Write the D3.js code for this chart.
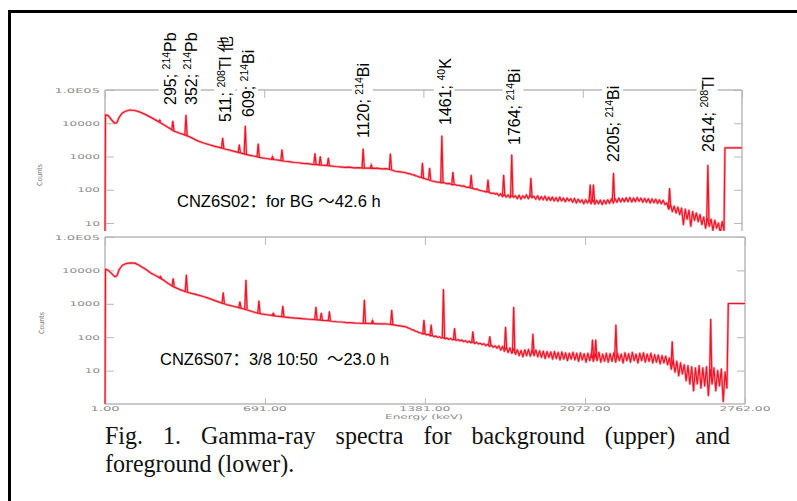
<!DOCTYPE html>
<html><head><meta charset="utf-8">
<script src="https://cdn.jsdelivr.net/npm/d3@7"></script>
<style>body{margin:0;background:#fff;overflow:hidden}svg{display:block}</style>
</head><body>
<svg id="c" width="797" height="501"></svg>
<script>
// ---------------- DATA ----------------
const xTicks = [1, 346, 691, 1036, 1381, 1726, 2072, 2417, 2762];
const xTickLabels = ["1.00", "", "691.00", "", "1381.00", "", "2072.00", "", "2762.00"];
const yTicks = [1e5, 1e4, 1e3, 100, 10];
const yTickLabels = ["1.0E05", "10000", "1000", "100", "10"];

// Background (upper) spectrum, low-energy part: [keV, counts]
const bgLow = [[1,5],[3,18000],[15,17000],[30,12500],[43,10000],[52,10300],[62,15000],[75,20000],[90,23000],[108,25000],[130,24200],[150,22000],[175,18500],[200,15000],[225,12000],[250,9500],[275,7500],[300,5800],[325,5000],[350,4400],[375,3700],[400,3000],[425,2600],[450,2300],[475,2050],[500,1850],[525,1650],[550,1500],[575,1350],[600,1220],[625,1100],[650,1020],[675,930],[700,870],[720,830],[740,800],[760,760],[780,720],[800,700],[820,660],[840,650],[860,620],[880,610],[900,580],[920,570],[940,545],[960,540],[980,520],[1000,500],[1020,490],[1040,470],[1060,480],[1080,455],[1100,460],[1120,445],[1140,450],[1160,440],[1180,445],[1200,425],[1220,430],[1240,400],[1260,360],[1280,345]];
// Background, high-energy part: counts per 8 keV channel starting at 1300 keV
const channelStart = 1300, channelStep = 8;
const bgHigh = [
 330,318,305,300,285,280,262,255,240,236,
 222,214,205,200,190,182,180,172,170,166,
 162,166,158,152,155,148,140,146,138,136,
 134,128,131,122,118,120,112,110,104,106,
 98,95,92,90,86,88,82,78,80,74,
 78,66,76,62,72,60,70,58,67,59,
 66,54,68,52,66,56,70,54,68,58,
 64,52,66,50,62,50,64,48,60,48,
 60,46,58,45,60,46,56,44,56,46,
 54,42,55,40,52,42,50,38,50,40,
 50,38,50,37,48,38,49,36,48,38,
 50,39,53,40,54,42,56,43,55,44,
 57,44,58,43,56,44,58,45,56,42,
 55,42,54,40,53,41,52,39,50,38,
 48,36,40,26,36,22,32,20,30,18,
 28,9,26,13,24,8,22,12,20,11,
 18,9,15,7,14,8,13,6,12,7,
 10,5,11,6];
const bgTail = [[2688,1830],[2762,1830]];
// [keV, peak top, peak base]
const bgPeaks = [[238,12500,11200],[295,11700,6100],[352,17700,4350],[511,3600,1760],[583,2250,1300],[609,8300,1180],[665,2400,960],[727,1000,820],[768,1600,745],[911,1250,575],[934,1000,550],[969,900,530],[1120,1700,445],[1155,560,442],[1238,1200,405],[1377,630,225],[1408,450,200],[1461,4200,162],[1509,340,150],[1588,275,112],[1661,200,86],[1729,275,67],[1764,1120,62],[1847,225,60],[2104,140,44],[2118,140,44],[2205,315,46],[2448,110,30],[2614,550,11]];

// Foreground (lower) spectrum
const fgLow = [[1,0.5],[3,11000],[15,10000],[30,8000],[43,6500],[52,6800],[62,10500],[75,14000],[92,16000],[110,16700],[130,16500],[150,14000],[175,11000],[200,8200],[225,6700],[250,5300],[275,4000],[300,3150],[325,2650],[350,2300],[375,2050],[400,1850],[425,1650],[450,1450],[475,1250],[500,1080],[525,950],[550,860],[575,780],[600,700],[625,620],[650,550],[675,500],[700,470],[720,450],[740,430],[760,415],[780,400],[800,385],[820,375],[840,365],[860,355],[880,345],[900,340],[920,330],[940,320],[960,315],[980,300],[1000,290],[1020,285],[1040,275],[1060,272],[1080,265],[1100,262],[1120,258],[1140,258],[1160,255],[1180,252],[1200,250],[1220,248],[1240,238],[1260,225],[1280,215]];
const fgHigh = [
 205,190,182,168,165,150,148,136,134,126,
 128,118,122,110,114,104,108,99,103,95,
 98,90,94,86,92,83,88,80,85,78,
 82,74,79,70,76,68,72,65,70,63,
 66,60,64,56,61,53,58,50,55,47,
 55,41,53,38,50,35,48,33,45,31,
 42,28,40,26,42,28,43,27,41,28,
 41,26,39,25,38,23,37,25,36,22,
 37,23,35,21,36,22,34,20,33,22,
 35,21,33,19,34,21,32,18,33,20,
 34,19,32,20,35,18,31,19,33,18,
 32,19,34,18,33,20,31,17,34,20,
 32,18,35,20,31,17,33,20,34,18,
 31,19,33,17,30,18,29,16,28,17,
 27,15,24,11,21,9,19,7,17,8,
 15,5,14,4,13,2.5,12,4,14,3,
 12,3.5,13,1.8,11,4,12,2.5,10,3.5,
 11,1.2,9,3];
const fgTail = [[2690,1020],[2762,1020]];
const fgPeaks = [[240,6600,5850],[295,5700,3300],[352,7300,2280],[511,2150,1020],[583,1150,760],[609,5150,680],[665,1230,520],[727,520,455],[768,860,410],[911,800,335],[934,530,322],[969,580,310],[1120,1290,258],[1155,320,255],[1238,650,240],[1377,325,126],[1408,235,110],[1461,2700,95],[1509,185,84],[1588,148,68],[1661,105,58],[1729,200,44],[1764,790,34],[1847,125,32],[2104,83,24],[2118,83,24],[2205,235,24],[2448,74,14],[2614,350,6]];

// Peak annotations
const peakEnergies = [295, 352, 511, 609, 1120, 1461, 1764, 2205, 2614];
const peakNums = ["295; ", "352; ", "511; ", "609; ", "1120; ", "1461; ", "1764; ", "2205; ", "2614; "];
const peakMass = ["214", "214", "208", "214", "214", "40", "214", "214", "208"];
const peakElems = ["Pb", "Pb", "Tl 他", "Bi", "Bi", "K", "Bi", "Bi", "Tl"];

const bgNote = "CNZ6S02：for BG ～42.6 h";
const fgNote = "CNZ6S07：3/8 10:50  ～23.0 h";
const xTitle = "Energy (keV)";
const yTitle = "Counts";
const caption1 = "Fig. 1. Gamma-ray spectra for background (upper) and";
const caption2 = "foreground (lower).";

// ---------------- LAYOUT ----------------
const labelLayout = [[-3,105],[5,105],[3,122],[3,117],[0,138],[3,125],[2,145],[0,162],[0,152]];
const RED = "#f01426", PINK = "#f7aab2", GRAY = "#b8b8b8", LGRAY = "#8c8c8c";
const svg = d3.select("#c");

// outer frame
svg.append("line").attr("x1",9.5).attr("x2",9.5).attr("y1",10).attr("y2",501).attr("stroke","#000").attr("stroke-width",3);
svg.append("line").attr("x1",8).attr("x2",797).attr("y1",11.5).attr("y2",11.5).attr("stroke","#000").attr("stroke-width",3);

function logTicks(min, max){
  const t=[]; for(let e=-1;e<=5;e++) for(let m=1;m<10;m++){const v=m*Math.pow(10,e); if(v>=min*0.999 && v<=max*1.001) t.push(v);} return t;
}

function panel(cfg){
  const x = d3.scaleLinear().domain([1,2762]).range([cfg.x0,cfg.x1]);
  const y = d3.scaleLog().domain([cfg.yMin,1e5]).range([cfg.yBot,cfg.yTop]);
  const g = svg.append("g");
  const clipId = "clip"+cfg.id;
  svg.append("clipPath").attr("id",clipId).append("rect")
    .attr("x",cfg.x0-1).attr("y",cfg.yTop).attr("width",cfg.x1-cfg.x0+2).attr("height",cfg.yBot-cfg.yTop);

  const minor = logTicks(cfg.yMin,1e5).filter(v=>!yTicks.includes(v));
  const major = yTicks.filter(v=>v>=cfg.yMin);
  const la = g.append("g").attr("transform",`translate(${cfg.x0},0)`);
  la.call(d3.axisRight(y).tickValues(minor).tickSize(5).tickFormat(""));
  la.call(d3.axisRight(y).tickValues(major).tickSize(9).tickFormat(""));
  const ra = g.append("g").attr("transform",`translate(${cfg.x1},0)`);
  ra.call(d3.axisLeft(y).tickValues(minor).tickSize(4).tickFormat(""));
  ra.call(d3.axisLeft(y).tickValues(major).tickSize(8).tickFormat(""));
  const ta = g.append("g").attr("transform",`translate(0,${cfg.yTop})`);
  ta.call(d3.axisBottom(x).tickValues(xTicks.filter((d,i)=>i%2===1)).tickSize(5).tickFormat(""));
  ta.call(d3.axisBottom(x).tickValues(xTicks.filter((d,i)=>i%2===0)).tickSize(8).tickFormat(""));
  if(cfg.bottomAxis){
    const ba = g.append("g").attr("transform",`translate(0,${cfg.yBot})`);
    ba.call(d3.axisTop(x).tickValues(xTicks.filter((d,i)=>i%2===1)).tickSize(3).tickFormat(""));
    ba.call(d3.axisTop(x).tickValues(xTicks.filter((d,i)=>i%2===0)).tickSize(6).tickFormat(""));
    ba.selectAll(".domain").attr("d",`M${cfg.x0},0H${cfg.x1}`);
    xTicks.forEach((t,i)=>{ if(!xTickLabels[i]) return;
      g.append("text").attr("x",x(t)).attr("y",cfg.yBot+6.5).attr("text-anchor","middle")
        .attr("font-family","DejaVu Sans").attr("font-size",6.5).attr("fill",LGRAY)
        .attr("textLength",7.3*xTickLabels[i].length).attr("lengthAdjust","spacingAndGlyphs")
        .text(xTickLabels[i]);
    });
  }
  g.selectAll(".domain").attr("stroke",GRAY).attr("stroke-width",1.5);
  g.selectAll(".tick line").attr("stroke",GRAY).attr("stroke-width",1);
  la.selectAll(".domain").attr("d",`M0,${cfg.yTop}V${cfg.yBot}`);
  ra.selectAll(".domain").attr("d",`M0,${cfg.yTop}V${cfg.yBot}`);
  ta.selectAll(".domain").attr("d",`M${cfg.x0},0H${cfg.x1}`);

  major.forEach(v=>{
    const lab = yTickLabels[yTicks.indexOf(v)];
    g.append("text").attr("x",cfg.x0-5).attr("y",y(v)+2.5).attr("text-anchor","end")
      .attr("font-family","DejaVu Sans").attr("font-size",6.5).attr("fill",LGRAY)
      .attr("textLength",7.6*lab.length).attr("lengthAdjust","spacingAndGlyphs").text(lab);
  });
  g.append("text").attr("transform",`translate(${cfg.titleX},${cfg.titleY}) rotate(-90)`)
    .attr("text-anchor","middle").attr("font-family","DejaVu Sans").attr("font-size",7)
    .attr("fill","#777").attr("textLength",22).attr("lengthAdjust","spacingAndGlyphs").text(yTitle);

  const pts = cfg.low.concat(cfg.high.map((c,i)=>[channelStart+i*channelStep,c]), cfg.tail);
  const line = d3.line().x(d=>x(d[0])).y(d=>y(d[1]));
  const peakPts = p=>[[p[0]-5,p[2]],[p[0],p[1]],[p[0]+5,p[2]]];
  const sg = g.append("g").attr("clip-path",`url(#${clipId})`);
  sg.append("path").attr("d",line(pts)).attr("fill","none").attr("stroke",PINK)
    .attr("stroke-width",2.6).attr("stroke-linejoin","round");
  sg.selectAll("path.pkh").data(cfg.peaks).join("path").attr("class","pkh")
    .attr("d",p=>line(peakPts(p))).attr("fill","none").attr("stroke",PINK).attr("stroke-width",2.4);
  sg.append("path").attr("d",line(pts)).attr("fill","none").attr("stroke",RED)
    .attr("stroke-width",1.2).attr("stroke-linejoin","round");
  sg.selectAll("path.pk").data(cfg.peaks).join("path").attr("class","pk")
    .attr("d",p=>line(peakPts(p)))
    .attr("fill","none").attr("stroke",RED).attr("stroke-width",1.2).attr("stroke-linejoin","round");

  g.append("text").attr("x",cfg.noteX).attr("y",cfg.noteY)
    .attr("font-family","Liberation Sans, 'Noto Sans CJK SC', sans-serif").attr("font-size",16.5)
    .attr("fill","#000").style("white-space","pre").text(cfg.note);
  return {x,y,g};
}

const upperP = panel({id:"t", x0:105, x1:742, yTop:90, yBot:231, yMin:5.75, low:bgLow, high:bgHigh, tail:bgTail,
  peaks:bgPeaks, bottomAxis:false, titleX:42, titleY:175, note:bgNote, noteX:177, noteY:207});
const lowerP = panel({id:"b", x0:105, x1:745, yTop:237, yBot:404, yMin:1, low:fgLow, high:fgHigh, tail:fgTail,
  peaks:fgPeaks, bottomAxis:true, titleX:44, titleY:323, note:fgNote, noteX:160, noteY:365});

svg.append("text").attr("x",424).attr("y",419).attr("text-anchor","middle")
  .attr("font-family","DejaVu Sans").attr("font-size",6.5).attr("fill",LGRAY)
  .attr("textLength",78).attr("lengthAdjust","spacingAndGlyphs").text(xTitle);

peakEnergies.forEach((E,i)=>{
  const [dx,yb] = labelLayout[i];
  const gg = svg.append("g").attr("transform",`translate(${upperP.x(E)+dx},${yb}) rotate(-90)`);
  const t = gg.append("text").attr("x",0).attr("y",0).attr("dy","0.36em")
    .attr("font-family","Liberation Sans, 'Noto Sans CJK SC', sans-serif").attr("font-size",16).attr("fill","#000")
    .style("white-space","pre");
  t.append("tspan").text(peakNums[i]);
  t.append("tspan").attr("font-size",10.5).attr("dy",-6).text(peakMass[i]);
  t.append("tspan").attr("dy",6).text(peakElems[i]);
  const bb = t.node().getBBox();
  gg.insert("rect","text").attr("x",bb.x-2).attr("y",bb.y-1).attr("width",bb.width+4).attr("height",bb.height+2).attr("fill","#fff");
});

const capFont = "Liberation Serif, 'Times New Roman', serif";
const c1 = svg.append("text").attr("transform","translate(105,444) scale(1,1.07)")
  .attr("font-family",capFont).attr("font-size",24).attr("fill","#111").text(caption1);
const w1 = c1.node().getComputedTextLength();
const nSp = caption1.split(" ").length-1;
c1.attr("word-spacing",(625 - w1)/nSp);
svg.append("text").attr("transform","translate(105,472) scale(1,1.07)")
  .attr("font-family",capFont).attr("font-size",24).attr("fill","#111").text(caption2);
</script>
</body></html>
